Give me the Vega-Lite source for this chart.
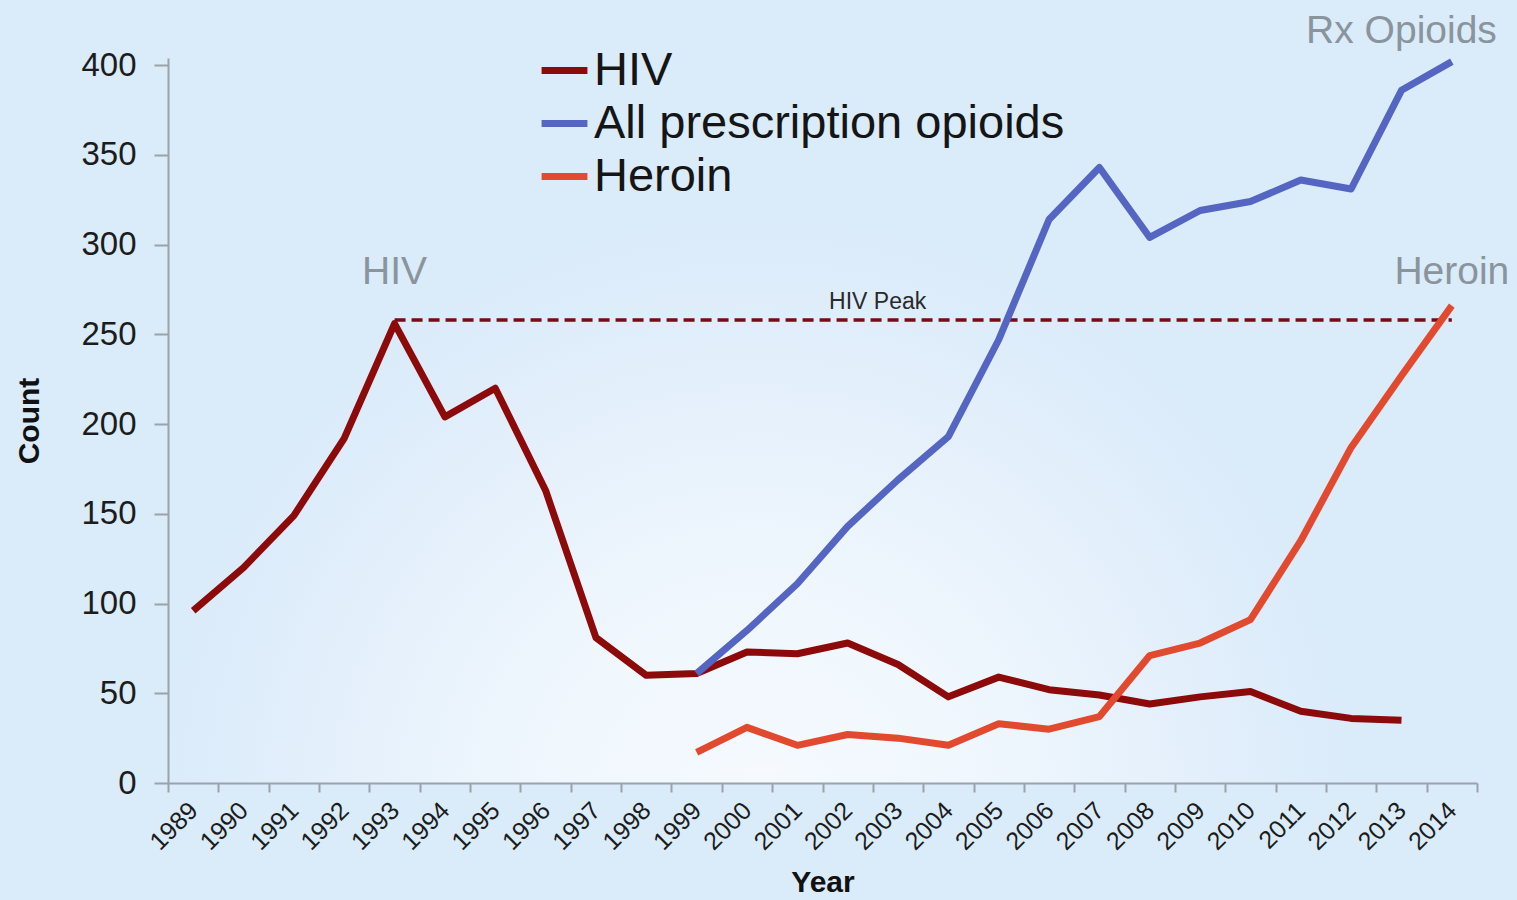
{
  "$schema": "https://vega.github.io/schema/vega-lite/v6.json",
  "width": 1309,
  "height": 725,
  "autosize": {"type": "none"},
  "padding": {"left": 168, "top": 58, "right": 40, "bottom": 117},
  "background": "#daebfa",
  "config": {
    "font": "Liberation Sans",
    "view": {
      "stroke": null,
      "fill": {
        "gradient": "radial",
        "x1": 0.45, "y1": 0.8, "r1": 0,
        "x2": 0.45, "y2": 0.8, "r2": 1,
        "stops": [
          {"offset": 0, "color": "#f6faff"},
          {"offset": 0.2, "color": "#eef6fd"},
          {"offset": 0.34, "color": "#e3effb"},
          {"offset": 0.46, "color": "#daebfa"},
          {"offset": 1, "color": "#daebfa"}
        ]
      }
    },
    "axis": {
      "domainColor": "#9aa3ab",
      "domainWidth": 2,
      "tickColor": "#9aa3ab",
      "tickWidth": 2,
      "grid": false,
      "labelColor": "#1c1c1c",
      "titleColor": "#111111",
      "titleFont": "Liberation Sans",
      "titleFontWeight": "bold"
    }
  },
  "datasets": {
    "series": [
      {"year": 1989, "series": "HIV", "count": 96},
      {"year": 1990, "series": "HIV", "count": 120},
      {"year": 1991, "series": "HIV", "count": 149},
      {"year": 1992, "series": "HIV", "count": 192},
      {"year": 1993, "series": "HIV", "count": 256},
      {"year": 1994, "series": "HIV", "count": 204},
      {"year": 1995, "series": "HIV", "count": 220},
      {"year": 1996, "series": "HIV", "count": 163},
      {"year": 1997, "series": "HIV", "count": 81},
      {"year": 1998, "series": "HIV", "count": 60},
      {"year": 1999, "series": "HIV", "count": 61},
      {"year": 2000, "series": "HIV", "count": 73},
      {"year": 2001, "series": "HIV", "count": 72},
      {"year": 2002, "series": "HIV", "count": 78},
      {"year": 2003, "series": "HIV", "count": 66},
      {"year": 2004, "series": "HIV", "count": 48},
      {"year": 2005, "series": "HIV", "count": 59},
      {"year": 2006, "series": "HIV", "count": 52},
      {"year": 2007, "series": "HIV", "count": 49},
      {"year": 2008, "series": "HIV", "count": 44},
      {"year": 2009, "series": "HIV", "count": 48},
      {"year": 2010, "series": "HIV", "count": 51},
      {"year": 2011, "series": "HIV", "count": 40},
      {"year": 2012, "series": "HIV", "count": 36},
      {"year": 2013, "series": "HIV", "count": 35},
      {"year": 1999, "series": "All prescription opioids", "count": 61},
      {"year": 2000, "series": "All prescription opioids", "count": 85},
      {"year": 2001, "series": "All prescription opioids", "count": 111},
      {"year": 2002, "series": "All prescription opioids", "count": 143},
      {"year": 2003, "series": "All prescription opioids", "count": 169},
      {"year": 2004, "series": "All prescription opioids", "count": 193},
      {"year": 2005, "series": "All prescription opioids", "count": 247},
      {"year": 2006, "series": "All prescription opioids", "count": 314},
      {"year": 2007, "series": "All prescription opioids", "count": 343},
      {"year": 2008, "series": "All prescription opioids", "count": 304},
      {"year": 2009, "series": "All prescription opioids", "count": 319},
      {"year": 2010, "series": "All prescription opioids", "count": 324},
      {"year": 2011, "series": "All prescription opioids", "count": 336},
      {"year": 2012, "series": "All prescription opioids", "count": 331},
      {"year": 2013, "series": "All prescription opioids", "count": 386},
      {"year": 2014, "series": "All prescription opioids", "count": 402},
      {"year": 1999, "series": "Heroin", "count": 17},
      {"year": 2000, "series": "Heroin", "count": 31},
      {"year": 2001, "series": "Heroin", "count": 21},
      {"year": 2002, "series": "Heroin", "count": 27},
      {"year": 2003, "series": "Heroin", "count": 25},
      {"year": 2004, "series": "Heroin", "count": 21},
      {"year": 2005, "series": "Heroin", "count": 33},
      {"year": 2006, "series": "Heroin", "count": 30},
      {"year": 2007, "series": "Heroin", "count": 37},
      {"year": 2008, "series": "Heroin", "count": 71},
      {"year": 2009, "series": "Heroin", "count": 78},
      {"year": 2010, "series": "Heroin", "count": 91},
      {"year": 2011, "series": "Heroin", "count": 135},
      {"year": 2012, "series": "Heroin", "count": 187},
      {"year": 2013, "series": "Heroin", "count": 227},
      {"year": 2014, "series": "Heroin", "count": 266}
    ],
    "peak": [
      {"year": 1993, "count": 258},
      {"year": 2014, "count": 258}
    ],
    "labels": [
      {"year": 1993, "count": 285, "label": "HIV"},
      {"year": 2013, "count": 419, "label": "Rx Opioids"},
      {"year": 2014, "count": 285, "label": "Heroin"}
    ],
    "peaklabel": [
      {"year": 2002, "count": 268, "label": "HIV Peak"}
    ]
  },
  "layer": [
    {
      "data": {"name": "peak"},
      "mark": {"type": "line", "color": "#7a0a14", "strokeWidth": 3.5, "strokeDash": [11, 6]},
      "encoding": {
        "x": {"field": "year", "type": "ordinal", "bandPosition": 0.5},
        "y": {"field": "count", "type": "quantitative"}
      }
    },
    {
      "data": {"name": "series"},
      "mark": {"type": "line", "strokeWidth": 7, "interpolate": "linear", "strokeCap": "butt", "strokeJoin": "round"},
      "encoding": {
        "x": {
          "field": "year", "type": "ordinal", "bandPosition": 0.5,
          "scale": {"type": "band", "paddingInner": 0, "paddingOuter": 0,
            "domain": [1989,1990,1991,1992,1993,1994,1995,1996,1997,1998,1999,2000,2001,2002,2003,2004,2005,2006,2007,2008,2009,2010,2011,2012,2013,2014]},
          "axis": {
            "title": "Year",
            "titleFontSize": 30,
            "titlePadding": 13,
            "labelAngle": -45,
            "labelAlign": "right",
            "labelBaseline": "middle",
            "labelFontSize": 25,
            "labelPadding": 14,
            "tickBand": "extent",
            "tickSize": 9
          }
        },
        "y": {
          "field": "count", "type": "quantitative",
          "scale": {"domain": [0, 404], "nice": false},
          "axis": {
            "title": "Count",
            "titleFontSize": 30,
            "titlePadding": 36,
            "values": [0, 50, 100, 150, 200, 250, 300, 350, 400],
            "labelFontSize": 33,
            "labelPadding": 18,
            "tickSize": 14
          }
        },
        "color": {
          "field": "series", "type": "nominal",
          "scale": {"domain": ["HIV", "All prescription opioids", "Heroin"], "range": ["#8c0a0a", "#5566c2", "#e24a30"]},
          "legend": {
            "title": null,
            "orient": "none",
            "legendX": 370,
            "legendY": -14,
            "padding": 0,
            "labelFontSize": 47,
            "labelColor": "#151515",
            "labelOffset": 3,
            "symbolType": "stroke",
            "symbolSize": 2100,
            "symbolStrokeWidth": 7,
            "rowPadding": 3,
            "labelLimit": 800
          }
        }
      }
    },
    {
      "data": {"name": "labels"},
      "mark": {"type": "text", "fontSize": 39, "color": "#8a949c", "align": "center", "baseline": "middle"},
      "encoding": {
        "x": {"field": "year", "type": "ordinal", "bandPosition": 0.5},
        "y": {"field": "count", "type": "quantitative"},
        "text": {"field": "label"}
      }
    },
    {
      "data": {"name": "peaklabel"},
      "mark": {"type": "text", "fontSize": 23, "color": "#2a2a2a", "align": "center", "baseline": "middle", "dx": 30},
      "encoding": {
        "x": {"field": "year", "type": "ordinal", "bandPosition": 0.5},
        "y": {"field": "count", "type": "quantitative"},
        "text": {"field": "label"}
      }
    }
  ]
}
